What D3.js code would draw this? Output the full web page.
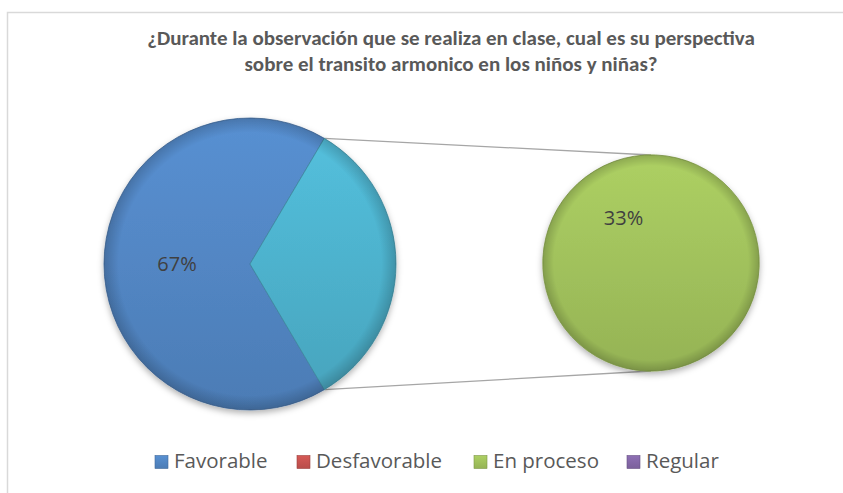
<!DOCTYPE html>
<html><head><meta charset="utf-8">
<script src="https://cdn.jsdelivr.net/npm/d3@7"></script>
<style>body{margin:0;background:#fff}svg{display:block}</style>
</head><body>
<svg id="c" width="843" height="493"></svg>
<script>
const titleLines = ["¿Durante la observación que se realiza en clase, cual es su perspectiva", "sobre el transito armonico en los niños y niñas?"];
const categories = ["Favorable", "Desfavorable", "En proceso", "Regular"];
const values = [67, 0, 33, 0];
const colors = ["#4f81bd", "#c0504d", "#9bbb59", "#8064a2"];
const otherColor = "#4bacc6";
const secondaryCats = ["En proceso"];

const svg = d3.select("#c");
const titleFont = "Carlito, Calibri, Lato, sans-serif";
const font = "'Open Sans', 'Segoe UI', sans-serif";
const defs = svg.append("defs");

function grad(id, c) {
  const g = defs.append("linearGradient").attr("id", id).attr("x1", 0).attr("y1", 0).attr("x2", 0).attr("y2", 1);
  g.append("stop").attr("offset", "0%").attr("stop-color", d3.color(c).brighter(0.3));
  g.append("stop").attr("offset", "100%").attr("stop-color", d3.color(c).darker(0.12));
}
colors.forEach((c, i) => grad("g" + i, c));
grad("gOther", otherColor);
const rim = defs.append("radialGradient").attr("id", "rim");
rim.append("stop").attr("offset", "90%").attr("stop-color", "#000").attr("stop-opacity", 0);
rim.append("stop").attr("offset", "100%").attr("stop-color", "#000").attr("stop-opacity", 0.18);
const sh = defs.append("filter").attr("id", "sh").attr("x", "-20%").attr("y", "-20%").attr("width", "140%").attr("height", "150%");
sh.append("feDropShadow").attr("dx", 0).attr("dy", 3).attr("stdDeviation", 3).attr("flood-color", "#000").attr("flood-opacity", 0.3);

// border
svg.append("rect").attr("x", 7.5).attr("y", 12.5).attr("width", 850).attr("height", 500)
  .attr("fill", "none").attr("stroke", "#d9d9d9").attr("stroke-width", 1.5);

// title
svg.append("g").selectAll("text").data(titleLines).join("text")
  .attr("x", 451).attr("y", (d, i) => 45 + i * 26)
  .attr("text-anchor", "middle").attr("font-family", titleFont).attr("font-weight", "bold")
  .attr("font-size", 21).attr("fill", "#595959").text(d => d);

const mainData = categories.map((c, i) => ({cat: c, v: values[i], col: "url(#g" + i + ")", stroke: colors[i]}))
  .filter(d => !secondaryCats.includes(d.cat) && d.v > 0);
const secData = categories.map((c, i) => ({cat: c, v: values[i], col: "url(#g" + i + ")", stroke: colors[i]}))
  .filter(d => secondaryCats.includes(d.cat) && d.v > 0);
const otherVal = d3.sum(secData, d => d.v);
mainData.push({cat: "Other", v: otherVal, col: "url(#gOther)", stroke: otherColor, other: true});

const total = d3.sum(values);
const otherAngle = otherVal / total * 2 * Math.PI;
const start = Math.PI / 2 + otherAngle / 2;

const c1 = {x: 250, y: 264, r: 146};
const c2 = {x: 651, y: 263, r: 108};

const pie1 = d3.pie().sort(null).value(d => d.v).startAngle(start).endAngle(start + 2 * Math.PI);
const arcs1 = pie1(mainData);
const arc1 = d3.arc().innerRadius(0).outerRadius(c1.r);

// connector lines
const o = arcs1.find(a => a.data.other);
const pA = [c1.x + c1.r * Math.sin(o.startAngle), c1.y - c1.r * Math.cos(o.startAngle)];
const pB = [c1.x + c1.r * Math.sin(o.endAngle), c1.y - c1.r * Math.cos(o.endAngle)];
svg.append("line").attr("x1", pA[0]).attr("y1", pA[1]).attr("x2", c2.x).attr("y2", c2.y - c2.r)
  .attr("stroke", "#a6a6a6").attr("stroke-width", 1.3);
svg.append("line").attr("x1", pB[0]).attr("y1", pB[1]).attr("x2", c2.x).attr("y2", c2.y + c2.r)
  .attr("stroke", "#a6a6a6").attr("stroke-width", 1.3);

const g1 = svg.append("g").attr("transform", `translate(${c1.x},${c1.y})`).attr("filter", "url(#sh)");
g1.selectAll("path.s").data(arcs1).join("path").attr("class", "s").attr("d", arc1)
  .attr("fill", d => d.data.col).attr("stroke", d => d3.color(d.data.stroke).darker(0.6)).attr("stroke-width", 0.8);
svg.append("circle").attr("cx", c1.x).attr("cy", c1.y).attr("r", c1.r).attr("fill", "url(#rim)");

// secondary pie
const secStart = 148.6 * Math.PI / 180;
const pie2 = d3.pie().sort(null).value(d => d.v).startAngle(secStart).endAngle(secStart + 2 * Math.PI);
const arcs2 = pie2(secData);
const arc2 = d3.arc().innerRadius(0).outerRadius(c2.r);
const g2 = svg.append("g").attr("transform", `translate(${c2.x},${c2.y})`).attr("filter", "url(#sh)");
g2.selectAll("path").data(arcs2).join("path").attr("d", arc2)
  .attr("fill", d => d.data.col).attr("stroke", d => d3.color(d.data.stroke).darker(0.6)).attr("stroke-width", 0.8);
svg.append("circle").attr("cx", c2.x).attr("cy", c2.y).attr("r", c2.r).attr("fill", "url(#rim)");

// labels
const fmt = d => Math.round(d.v / total * 100) + "%";
const lab1 = d3.arc().innerRadius(0).outerRadius(c1.r);
svg.append("g").attr("transform", `translate(${c1.x},${c1.y})`).selectAll("text")
  .data(arcs1.filter(a => !a.data.other)).join("text")
  .attr("transform", d => `translate(${lab1.centroid(d)})`).attr("text-anchor", "middle").attr("dy", "0.36em")
  .attr("font-family", font).attr("font-size", 20).attr("fill", "#404040").text(d => fmt(d.data));
const lab2 = d3.arc().innerRadius(0).outerRadius(c2.r * 0.975);
svg.append("g").attr("transform", `translate(${c2.x},${c2.y})`).selectAll("text")
  .data(arcs2).join("text")
  .attr("transform", d => `translate(${lab2.centroid(d)})`).attr("text-anchor", "middle").attr("dy", "0.36em")
  .attr("font-family", font).attr("font-size", 20).attr("fill", "#404040").text(d => fmt(d.data));

// legend
const legX = [155, 297, 474, 627];
const lg = svg.append("g");
const items = lg.selectAll("g").data(categories).join("g").attr("transform", (d, i) => `translate(${legX[i]},462)`);
items.append("rect").attr("x", 0).attr("y", -6.5).attr("width", 13).attr("height", 13)
  .attr("fill", (d, i) => "url(#g" + i + ")").attr("stroke", (d, i) => d3.color(colors[i]).darker(0.6)).attr("stroke-width", 0.6);
items.append("text").attr("x", 19).attr("y", 6)
  .attr("font-family", font).attr("font-size", 20.5).attr("fill", "#595959").text(d => d);
</script>
</body></html>
